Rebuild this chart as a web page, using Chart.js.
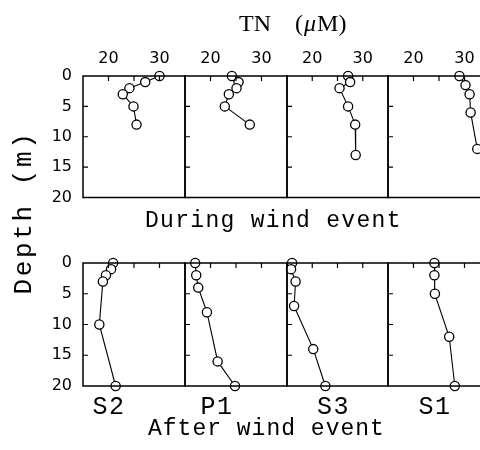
<!DOCTYPE html>
<html><head><meta charset="utf-8">
<script src="https://cdn.jsdelivr.net/npm/chart.js@4.4.0/dist/chart.umd.min.js"></script>
<style>
html,body{margin:0;padding:0;background:#fff;overflow:hidden;width:480px;height:450px;}
#wrap{position:relative;width:480px;height:450px;overflow:hidden;}
#wrap canvas{position:absolute;left:0;top:0;}
</style></head><body><div id="wrap"></div>
<script>
// ---- data ----
const stations = ['S2', 'P1', 'S3', 'S1'];
const xTicks = [20, 25, 30];
const xTickLabels = [20, 30];
const yTicks = [0, 5, 10, 15, 20];
const yInnerTicks = [5, 10, 15];

// During wind event (TN in µM vs depth in m)
const s2DuringDepth = [0, 1, 2, 3, 5, 8];
const s2DuringTN    = [30.0, 27.2, 24.1, 22.8, 24.9, 25.5];
const p1DuringDepth = [0, 1, 2, 3, 5, 8];
const p1DuringTN    = [24.2, 25.5, 25.1, 23.6, 22.8, 27.7];
const s3DuringDepth = [0, 1, 2, 5, 8, 13];
const s3DuringTN    = [27.1, 27.5, 25.4, 27.1, 28.5, 28.6];
const s1DuringDepth = [0, 1.5, 3, 6, 12];
const s1DuringTN    = [29.0, 30.2, 31.0, 31.2, 32.5];

// After wind event
const s2AfterDepth = [0, 1, 2, 3, 10, 20];
const s2AfterTN    = [20.9, 20.5, 19.5, 18.9, 18.2, 21.4];
const p1AfterDepth = [0, 2, 4, 8, 16, 20];
const p1AfterTN    = [17.0, 17.2, 17.6, 19.3, 21.4, 24.8];
const s3AfterDepth = [0, 1, 3, 7, 14, 20];
const s3AfterTN    = [16.0, 15.8, 16.7, 16.4, 20.2, 22.6];
const s1AfterDepth = [0, 2, 5, 12, 20];
const s1AfterTN    = [24.1, 24.1, 24.2, 27.0, 28.1];

const panelData = [
  [[s2DuringTN, s2DuringDepth], [p1DuringTN, p1DuringDepth], [s3DuringTN, s3DuringDepth], [s1DuringTN, s1DuringDepth]],
  [[s2AfterTN, s2AfterDepth], [p1AfterTN, p1AfterDepth], [s3AfterTN, s3AfterDepth], [s1AfterTN, s1AfterDepth]]
];

// ---- layout ----
const CW = 500, CH = 450;
const colLeft = [83, 185, 287, 388];
const colWidth = [102, 102, 101, 102];
const rowTop = [76, 263];
const rowHeight = [121.5, 123];
const AXIS_W = 60, AXIS_H = 50;

const tickFont = {family: 'DejaVu Sans', size: 16};

const framePlugin = {
  id: 'frame',
  afterDatasetsDraw(chart) {
    const {ctx, chartArea: a, scales} = chart;
    ctx.save();
    ctx.strokeStyle = '#000';
    ctx.lineWidth = 1.5;
    ctx.strokeRect(a.left, a.top, a.right - a.left, a.bottom - a.top);
    ctx.lineWidth = 1.2;
    ctx.beginPath();
    xTicks.forEach(v => {
      const px = scales.x.getPixelForValue(v);
      ctx.moveTo(px, a.top); ctx.lineTo(px, a.top + 5);
    });
    yInnerTicks.forEach(v => {
      const py = scales.y.getPixelForValue(v);
      ctx.moveTo(a.left, py); ctx.lineTo(a.left + 5, py);
    });
    ctx.stroke();
    ctx.restore();
  }
};

const textPlugin = {
  id: 'texts',
  afterDraw(chart) {
    const ctx = chart.ctx;
    ctx.save();
    ctx.fillStyle = '#000';
    ctx.textBaseline = 'alphabetic';
    // Title TN (µM)
    ctx.textAlign = 'left';
    ctx.font = '24px "Liberation Serif"';
    ctx.fillText('TN', 239, 31);
    let x = 295;
    ctx.fillText('(', x, 31); x += ctx.measureText('(').width + 1;
    ctx.font = 'italic 24px "Liberation Serif"';
    ctx.fillText('\u03BC', x, 31); x += ctx.measureText('\u03BC').width + 1;
    ctx.font = '24px "Liberation Serif"';
    ctx.fillText('M)', x, 31);

    // Row captions
    ctx.font = '23px "Liberation Mono"';
    ctx.letterSpacing = '1.3px';
    ctx.fillText('During wind event', 145, 227);
    ctx.letterSpacing = '1px';
    ctx.fillText('After wind event', 148, 435);

    // Station labels
    ctx.font = '25px "Liberation Mono"';
    ctx.letterSpacing = '1.5px';
    ctx.textAlign = 'center';
    const stationX = [109, 217, 333.5, 435];
    stations.forEach((s, i) => ctx.fillText(s, stationX[i], 413.5));

    // Y axis title
    ctx.font = '26px "Liberation Mono"';
    ctx.letterSpacing = '2.6px';
    ctx.translate(31, 212.5);
    ctx.rotate(-Math.PI / 2);
    ctx.textAlign = 'center';
    ctx.fillText('Depth (m)', 0, 0);
    ctx.restore();
  }
};

const wrap = document.getElementById('wrap');
for (let r = 0; r < 2; r++) {
  for (let c = 0; c < 4; c++) {
    const cv = document.createElement('canvas');
    cv.width = CW; cv.height = CH;
    cv.style.width = CW + 'px'; cv.style.height = CH + 'px';
    wrap.appendChild(cv);
    const [tn, depth] = panelData[r][c];
    const L = colLeft[c], T = rowTop[r], W = colWidth[c], H = rowHeight[r];
    const showX = r === 0, showY = c === 0;
    const plugins = [framePlugin];
    if (r === 0 && c === 0) plugins.push(textPlugin);
    new Chart(cv, {
      type: 'scatter',
      data: {
        datasets: [{
          data: depth.map((d, i) => ({x: tn[i], y: d})),
          showLine: true,
          borderColor: '#000',
          borderWidth: 1.1,
          pointRadius: 4.6,
          pointBackgroundColor: '#fff',
          pointBorderColor: '#000',
          pointBorderWidth: 1.3,
          clip: false
        }]
      },
      options: {
        responsive: false,
        animation: false,
        devicePixelRatio: 1,
        layout: {padding: {
          left: showY ? L - AXIS_W : L,
          top: showX ? T - AXIS_H : T,
          right: CW - L - W,
          bottom: CH - T - H
        }},
        plugins: {legend: {display: false}, tooltip: {enabled: false}},
        scales: {
          x: {
            type: 'linear', position: 'top', min: 15, max: 35,
            display: showX,
            afterFit: s => { s.height = showX ? AXIS_H : 0; },
            grid: {display: false, drawTicks: false},
            border: {display: false},
            ticks: {
              stepSize: 5, autoSkip: false, maxRotation: 0, padding: 8,
              color: '#000', font: tickFont,
              callback: v => xTickLabels.includes(v) ? String(v) : ''
            }
          },
          y: {
            type: 'linear', position: 'left', min: 0, max: 20, reverse: true,
            display: showY,
            afterFit: s => { s.width = showY ? AXIS_W : 0; },
            afterBuildTicks: s => { s.ticks = yTicks.map(v => ({value: v})); },
            grid: {display: false, drawTicks: false},
            border: {display: false},
            ticks: {autoSkip: false, padding: 11, color: '#000', font: tickFont}
          }
        }
      },
      plugins
    });
  }
}
</script></body></html>
